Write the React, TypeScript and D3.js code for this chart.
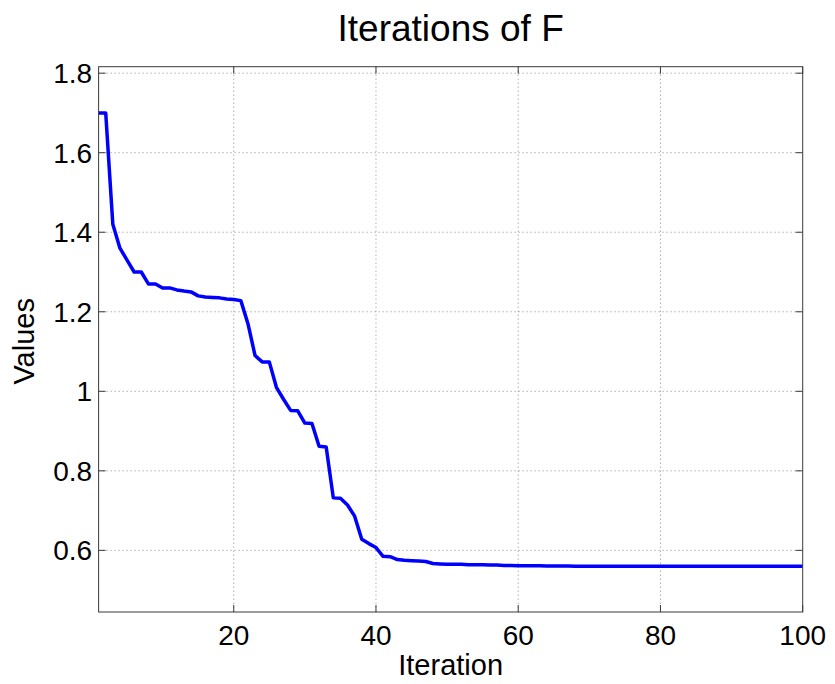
import React from "react";
import * as d3 from "d3";

const iterations: number[] = Array.from({ length: 100 }, (_, i) => i + 1);
const values: number[] = [
  1.70, 1.70, 1.42, 1.36, 1.33, 1.30, 1.30, 1.27, 1.27, 1.26,
  1.26, 1.255, 1.252, 1.25, 1.24, 1.237, 1.236, 1.235, 1.232, 1.231,
  1.228, 1.17, 1.09, 1.074, 1.074, 1.01, 0.98, 0.952, 0.951, 0.92,
  0.919, 0.862, 0.860, 0.732, 0.731, 0.714, 0.686, 0.628, 0.617, 0.607,
  0.585, 0.584, 0.577, 0.575, 0.574, 0.573, 0.572, 0.567, 0.566, 0.565,
  0.565, 0.565, 0.564, 0.564, 0.564, 0.563, 0.563, 0.562, 0.562, 0.561,
  0.561, 0.561, 0.561, 0.5605, 0.5605, 0.5605, 0.5605, 0.560, 0.560, 0.560,
  0.560, 0.560, 0.560, 0.560, 0.560, 0.560, 0.560, 0.560, 0.560, 0.560,
  0.560, 0.560, 0.5598, 0.5598, 0.5598, 0.5598, 0.5598, 0.5598, 0.5598, 0.5598,
  0.5598, 0.5598, 0.5598, 0.5598, 0.5598, 0.5598, 0.5598, 0.5598, 0.5598, 0.5598,
];
const xTicks: number[] = [20, 40, 60, 80, 100];
const yTicks: number[] = [0.6, 0.8, 1.0, 1.2, 1.4, 1.6, 1.8];
const yTickLabels: string[] = ["0.6", "0.8", "1", "1.2", "1.4", "1.6", "1.8"];
const title = "Iterations of F";
const xLabel = "Iteration";
const yLabel = "Values";

export default function App() {
  const W = 835, H = 684;
  const left = 98.6, right = 802.7, top = 66.7, bottom = 612;
  const x = d3.scaleLinear().domain([1, 100]).range([left, right]);
  const y = d3.scaleLinear().domain([0.445, 1.8163]).range([bottom, top]);
  const line = d3
    .line<number>()
    .x((_, i) => x(iterations[i]))
    .y((d) => y(d));
  const font = "'Liberation Sans', Arial, Helvetica, sans-serif";
  const tickLen = 7;
  const axisColor = "#3a3a3a";
  const gridColor = "#8a8a8a";
  return (
    <svg
      width={W}
      height={H}
      style={{ position: "absolute", left: 0, top: 0, background: "#fff" }}
      fontFamily={font}
    >
      <rect x={0} y={0} width={W} height={H} fill="#fff" />
      {/* grid */}
      {xTicks
        .filter((t) => t < 100)
        .map((t) => (
          <line
            key={"gx" + t}
            x1={x(t)}
            x2={x(t)}
            y1={top}
            y2={bottom}
            stroke={gridColor}
            strokeWidth={1}
            strokeDasharray="1 3"
          />
        ))}
      {yTicks.map((t) => (
        <line
          key={"gy" + t}
          x1={left}
          x2={right}
          y1={y(t)}
          y2={y(t)}
          stroke={gridColor}
          strokeWidth={1}
          strokeDasharray="1 3"
        />
      ))}
      {/* ticks */}
      {xTicks.map((t) => (
        <g key={"tx" + t}>
          <line x1={x(t)} x2={x(t)} y1={bottom} y2={bottom - tickLen} stroke={axisColor} />
          <line x1={x(t)} x2={x(t)} y1={top} y2={top + tickLen} stroke={axisColor} />
        </g>
      ))}
      {yTicks.map((t) => (
        <g key={"ty" + t}>
          <line x1={left} x2={left + tickLen} y1={y(t)} y2={y(t)} stroke={axisColor} />
          <line x1={right} x2={right - tickLen} y1={y(t)} y2={y(t)} stroke={axisColor} />
        </g>
      ))}
      {/* data line */}
      <path
        d={line(values) || ""}
        fill="none"
        stroke="#0000ff"
        strokeWidth={3.5}
        strokeLinejoin="round"
      />
      {/* axes box */}
      <rect
        x={left}
        y={top}
        width={right - left}
        height={bottom - top}
        fill="none"
        stroke={axisColor}
        strokeWidth={1}
      />
      {/* tick labels */}
      {xTicks.map((t) => (
        <text
          key={"lx" + t}
          x={x(t)}
          y={645}
          textAnchor="middle"
          fontSize={28}
          fill="#000"
        >
          {t}
        </text>
      ))}
      {yTicks.map((t, i) => (
        <text
          key={"ly" + t}
          x={left - 6.5}
          y={y(t) + 10}
          textAnchor="end"
          fontSize={28}
          fill="#000"
        >
          {yTickLabels[i]}
        </text>
      ))}
      {/* labels */}
      <text x={(left + right) / 2} y={40.5} textAnchor="middle" fontSize={37} fill="#000">
        {title}
      </text>
      <text x={(left + right) / 2} y={675} textAnchor="middle" fontSize={29} fill="#000">
        {xLabel}
      </text>
      <text
        transform={`translate(33.5, ${(top + bottom) / 2 + 2}) rotate(-90)`}
        textAnchor="middle"
        fontSize={29}
        fill="#000"
      >
        {yLabel}
      </text>
    </svg>
  );
}
